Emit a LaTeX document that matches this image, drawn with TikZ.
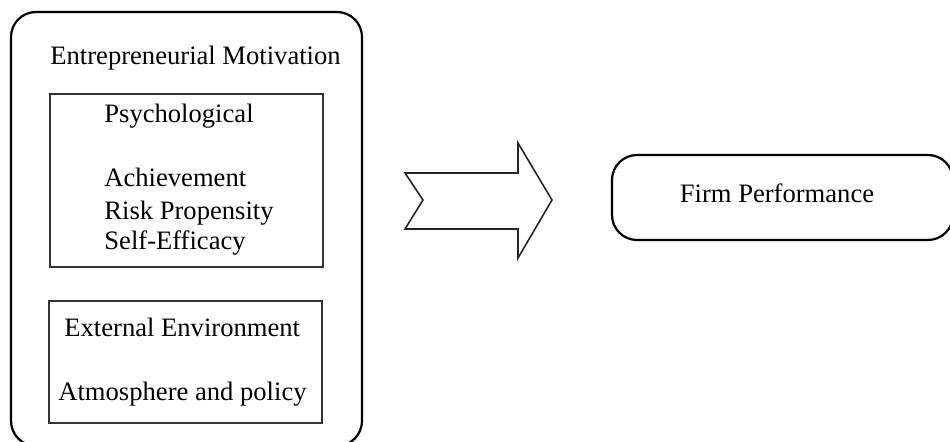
\documentclass[tikz,border=0pt]{standalone}
\usepackage{fontspec}
\setmainfont{Liberation Serif}
\begin{document}
\begin{tikzpicture}[x=0.5pt,y=-0.5pt,
    lbl/.style={inner sep=0pt,anchor=base west,font=\fontsize{13.3}{16}\selectfont},
    outerbox/.style={line width=1.1pt,rounded corners=12.5pt},
    innerbox/.style={line width=0.6pt,draw=black!80}]
    \useasboundingbox (0,0) rectangle (950,442);

    % Outer frame
    \draw[outerbox] (11,12) rectangle (362,446);

    % Inner boxes
    \draw[innerbox] (50,94) rectangle (323,267);
    \draw[innerbox] (49,301) rectangle (322,423);

    % Labels
    \node[lbl] (motiv) at (50,65) {Entrepreneurial Motivation};
    \node[lbl] (psych) at (104,123) {Psychological};
    \node[lbl] (achv) at (104,187) {Achievement};
    \node[lbl] (risk) at (104,220) {Risk Propensity};
    \node[lbl] (self) at (104,250) {Self-Efficacy};
    \node[lbl] (extenv) at (64,337) {External Environment};
    \node[lbl] (atmos) at (58,401) {Atmosphere and policy};

    % Big arrow
    \draw[line width=0.8pt,draw=black!85,line join=miter]
      (405,173) -- (518,173) -- (518,143) -- (552,200) -- (518,258)
      -- (518,229) -- (405,229) -- (423,200) -- cycle;

    % Outcome
    \draw[outerbox] (612,155) rectangle (953,240);
    \node[inner sep=0pt,anchor=base,font=\fontsize{13.3}{16}\selectfont] (perf) at (777,203) {Firm Performance};
\end{tikzpicture}
\end{document}
